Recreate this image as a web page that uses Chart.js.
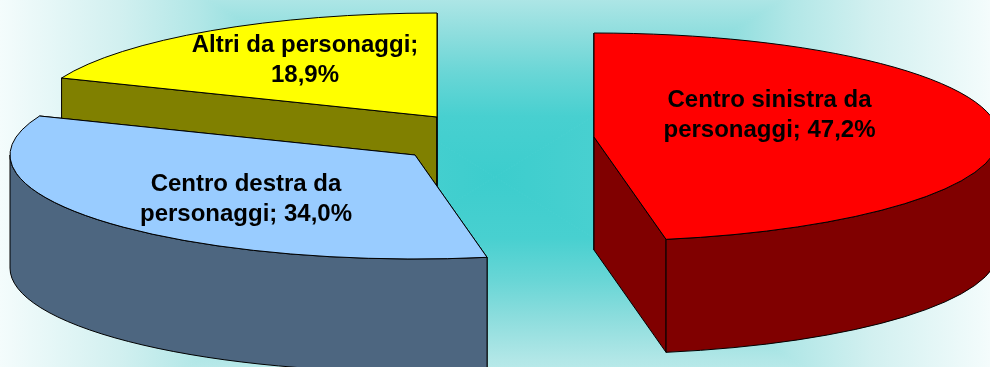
<!DOCTYPE html>
<html>
<head>
<meta charset="utf-8">
<style>
  html, body { margin: 0; padding: 0; background: #fff; }
  canvas { display: block; }
</style>
<script src="https://cdn.jsdelivr.net/npm/chart.js@4"></script>
</head>
<body>
<canvas id="torta" width="990" height="367"></canvas>
<script>
const categorie = ["Centro sinistra da personaggi", "Centro destra da personaggi", "Altri da personaggi"];
const valori = [47.2, 34.0, 18.9];
// righe delle etichette, come nel grafico originale
const etichette = [
    ["Centro sinistra da", "personaggi; 47,2%"],
    ["Centro destra da", "personaggi; 34,0%"],
    ["Altri da personaggi;", "18,9%"]
];

const coloriTop = ["#FF0000", "#99CCFF", "#FFFF00"];
const coloriLato = ["#800000", "#4D6680", "#808000"];

const RAGGIO = 405;
const SCHIACCIA = 104 / 405;  // inclinazione della torta
const SPESSORE = 113;
// spostamento di ogni fetta rispetto al centro del grafico
const esplosione = [[99, -46.5], [-80, -28.5], [-58, -66.5]];
// posizione del testo rispetto al vertice della fetta
const posTesto = [[175.5, -30], [-169, 36], [-132, -65]];
// sfumatura dello sfondo, dal centro verso il bordo
const sfumatura = [
    [0, "rgb(60,205,205)"],
    [0.2, "rgb(72,208,208)"],
    [0.34, "rgb(105,214,214)"],
    [0.46, "rgb(140,221,221)"],
    [0.6, "rgb(178,231,231)"],
    [0.76, "rgb(210,240,240)"],
    [1, "rgb(244,252,252)"]
];

// Sfondo: sfumatura rettangolare dal centro verso i bordi
const sfondo = {
    id: "sfondo",
    beforeDraw(chart) {
        const ctx = chart.ctx;
        const w = chart.width, h = chart.height;
        const cx = w / 2, cy = 177, semiAlt = 305;
        const top = cy - semiAlt, bot = cy + semiAlt;
        const lati = [
            [[0, top], [w, top], cx, top],
            [[w, top], [w, bot], w, cy],
            [[w, bot], [0, bot], cx, bot],
            [[0, bot], [0, top], 0, cy]
        ];
        ctx.save();
        lati.forEach(l => {
            const g = ctx.createLinearGradient(cx, cy, l[2], l[3]);
            sfumatura.forEach(s => g.addColorStop(s[0], s[1]));
            ctx.beginPath();
            ctx.moveTo(cx, cy);
            ctx.lineTo(l[0][0], l[0][1]);
            ctx.lineTo(l[1][0], l[1][1]);
            ctx.closePath();
            ctx.fillStyle = g;
            ctx.fill();
            ctx.strokeStyle = g;
            ctx.lineWidth = 1;
            ctx.stroke();
        });
        ctx.restore();
    }
};

function disegnaFaccia(ctx, x, y, r, ang, colore) {
    const px = x + r * Math.cos(ang);
    const py = y + r * SCHIACCIA * Math.sin(ang);
    ctx.beginPath();
    ctx.moveTo(x, y);
    ctx.lineTo(px, py);
    ctx.lineTo(px, py + SPESSORE);
    ctx.lineTo(x, y + SPESSORE);
    ctx.closePath();
    ctx.fillStyle = colore;
    ctx.fill();
    ctx.stroke();
}

// Torta 3D: le fette vengono dal controller, qui si aggiunge solo la prospettiva
const torta3d = {
    id: "torta3d",
    beforeDatasetDraw(chart, args) {
        const ctx = chart.ctx;
        const arcs = args.meta.data;

        for (let i = arcs.length - 1; i >= 0; i--) {
            const arco = arcs[i];
            const x = arco.x + esplosione[i][0];
            const y = arco.y + esplosione[i][1];
            const r = arco.outerRadius;
            const a0 = arco.startAngle, a1 = arco.endAngle;

            ctx.save();
            ctx.strokeStyle = "#000";
            ctx.lineWidth = 1;
            ctx.lineJoin = "round";

            disegnaFaccia(ctx, x, y, r, a0, coloriLato[i]);
            disegnaFaccia(ctx, x, y, r, a1, coloriLato[i]);

            // bordo esterno, solo la parte davanti
            const da = Math.max(a0, 0), a = Math.min(a1, Math.PI);
            if (a > da) {
                ctx.beginPath();
                ctx.ellipse(x, y, r, r * SCHIACCIA, 0, da, a);
                ctx.ellipse(x, y + SPESSORE, r, r * SCHIACCIA, 0, a, da, true);
                ctx.closePath();
                ctx.fillStyle = coloriLato[i];
                ctx.fill();
                ctx.stroke();
            }

            // faccia superiore disegnata dall'elemento arco
            ctx.save();
            ctx.translate(x, y);
            ctx.scale(1, SCHIACCIA);
            ctx.translate(-arco.x, -arco.y);
            arco.draw(ctx);
            ctx.restore();

            ctx.beginPath();
            ctx.moveTo(x, y);
            ctx.ellipse(x, y, r, r * SCHIACCIA, 0, a0, a1);
            ctx.closePath();
            ctx.stroke();
            ctx.restore();
        }
        return false;
    },
    afterDraw(chart) {
        const ctx = chart.ctx;
        const arcs = chart.getDatasetMeta(0).data;
        ctx.save();
        ctx.fillStyle = "#000";
        ctx.font = "bold 24px 'Liberation Sans', Arial, sans-serif";
        ctx.textAlign = "center";
        ctx.textBaseline = "alphabetic";
        etichette.forEach((righe, i) => {
            const x = arcs[i].x + esplosione[i][0] + posTesto[i][0];
            const y = arcs[i].y + esplosione[i][1] + posTesto[i][1];
            righe.forEach((riga, j) => ctx.fillText(riga, x, y + j * 30));
        });
        ctx.restore();
    }
};

new Chart(document.getElementById("torta").getContext("2d"), {
    type: "pie",
    data: {
        labels: categorie,
        datasets: [{
            data: valori,
            backgroundColor: coloriTop,
            borderWidth: 0
        }]
    },
    options: {
        responsive: false,
        animation: false,
        radius: RAGGIO,
        layout: { padding: 0 },
        plugins: {
            legend: { display: false },
            tooltip: { enabled: false }
        }
    },
    plugins: [sfondo, torta3d]
});
</script>
</body>
</html>
